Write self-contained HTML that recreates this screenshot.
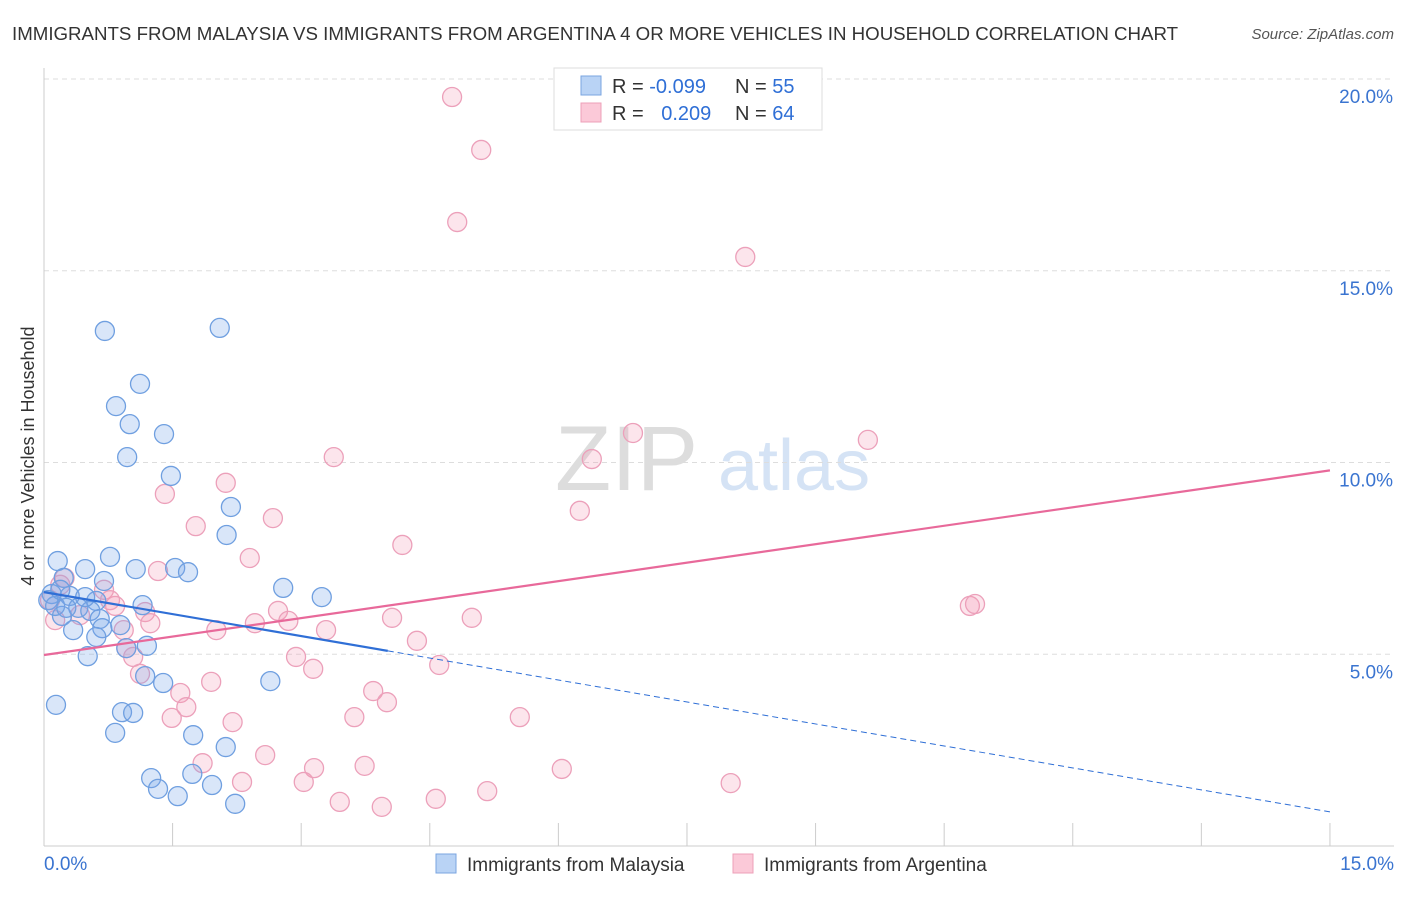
<!DOCTYPE html>
<html><head><meta charset="utf-8"><style>
body{margin:0;background:#fff;font-family:"Liberation Sans",sans-serif;}
svg text{font-family:"Liberation Sans",sans-serif;}
</style></head><body>
<svg id="chart" width="1406" height="892" xmlns="http://www.w3.org/2000/svg">
<text x="12" y="40" font-size="18.7" fill="#333">IMMIGRANTS FROM MALAYSIA VS IMMIGRANTS FROM ARGENTINA 4 OR MORE VEHICLES IN HOUSEHOLD CORRELATION CHART</text>
<text x="1394" y="39" font-size="15" fill="#555" text-anchor="end" font-style="italic">Source: ZipAtlas.com</text>
<g>
<text x="555" y="490" font-size="92" fill="#ddd" font-family="Liberation Serif">ZIP</text>
<text x="718" y="490" font-size="72" fill="#d5e3f5">atlas</text>
</g>
<g id="grid"></g><g id="axes"></g><g id="marks"></g><g id="lines"></g>
<g>
<rect x="554" y="68" width="268" height="62" fill="#fff" stroke="#ddd"/>
<rect x="581" y="76" width="20" height="19" fill="#b9d3f5" stroke="#7aa5e0"/>
<text x="612" y="93" font-size="20" fill="#333">R = <tspan fill="#2f6fd6">-0.099</tspan></text>
<text x="735" y="93" font-size="20" fill="#333">N = <tspan fill="#2f6fd6">55</tspan></text>
<rect x="581" y="103" width="20" height="19" fill="#fbc9d8" stroke="#eea0b8"/>
<text x="612" y="120" font-size="20" fill="#333">R = <tspan fill="#2f6fd6" dx="12">0.209</tspan></text>
<text x="735" y="120" font-size="20" fill="#333">N = <tspan fill="#2f6fd6">64</tspan></text>
</g>
<g>
<rect x="436" y="854" width="20" height="19" fill="#b9d3f5" stroke="#7aa5e0"/>
<text x="467" y="871" font-size="19" fill="#333">Immigrants from Malaysia</text>
<rect x="733" y="854" width="20" height="19" fill="#fbc9d8" stroke="#eea0b8"/>
<text x="764" y="871" font-size="19" fill="#333">Immigrants from Argentina</text>
</g>
<text transform="translate(34,456) rotate(-90)" font-size="18" fill="#333" text-anchor="middle">4 or more Vehicles in Household</text>
</svg>
<script>
const malaysiaX=[0.71,2.05,1.12,0.84,1.00,1.40,0.97,1.48,2.18,2.13,0.77,0.16,0.48,1.07,1.53,1.68,0.70,0.23,2.79,3.24,0.09,0.30,0.61,1.15,0.21,0.40,0.54,0.65,0.34,0.68,0.61,1.20,0.96,0.51,1.18,1.39,2.64,0.14,0.91,1.04,0.83,1.74,2.12,1.25,1.73,1.33,1.56,1.96,2.23,0.05,0.13,0.19,0.48,0.89,0.26];
const malaysiaY=[13.43,13.51,12.05,11.47,11.00,10.74,10.14,9.65,8.84,8.11,7.54,7.43,7.22,7.22,7.25,7.14,6.91,6.99,6.73,6.49,6.57,6.52,6.39,6.28,6.00,6.21,6.13,5.92,5.63,5.68,5.45,5.22,5.16,4.95,4.43,4.25,4.30,3.68,3.49,3.47,2.95,2.89,2.58,1.77,1.88,1.49,1.30,1.59,1.10,6.41,6.26,6.68,6.49,5.76,6.21];
const argentinaX=[4.76,5.10,4.82,8.18,6.87,9.61,3.38,6.39,1.41,2.12,1.77,2.67,6.25,4.18,2.40,1.33,0.24,0.70,2.73,2.85,3.29,4.06,4.99,4.35,0.83,1.18,1.24,0.93,2.01,2.46,10.80,10.86,0.96,1.04,2.94,3.14,4.61,1.12,1.59,1.95,3.84,4.00,1.66,1.49,3.62,5.55,2.20,2.58,1.85,3.15,3.74,6.04,3.03,2.31,8.01,5.17,3.45,3.94,4.57,0.07,0.13,0.42,0.77,0.19];
const argentinaY=[19.53,18.15,16.27,15.36,10.77,10.59,10.14,10.09,9.18,9.47,8.34,8.55,8.74,7.85,7.51,7.17,6.99,6.68,6.13,5.87,5.63,5.95,5.95,5.35,6.26,6.10,5.81,5.63,5.63,5.81,6.26,6.31,5.16,4.93,4.93,4.62,4.72,4.49,3.99,4.28,4.04,3.75,3.62,3.34,3.36,3.36,3.23,2.37,2.16,2.03,2.09,2.01,1.67,1.67,1.64,1.43,1.15,1.02,1.23,6.41,5.89,6.02,6.41,6.81];
const yTicks=[5,10,15,20];
const yTickLabels=["5.0%","10.0%","15.0%","20.0%"];
const xTicks=[0,1.5,3,4.5,6,7.5,9,10.5,12,13.5,15];
const malaysiaTrend=[6.62,-0.382];
const argentinaTrend=[4.98,0.321];
const malaysiaSolidEnd=4.01;

(function(){
const NS="http://www.w3.org/2000/svg";
const X=v=>44+v*85.73, Y=v=>846-v*38.35;
function mk(tag,attrs,parent){const e=document.createElementNS(NS,tag);for(const k in attrs)e.setAttribute(k,attrs[k]);document.getElementById(parent).appendChild(e);return e;}
yTicks.forEach((t,i)=>{
 const g=mk('line',{x1:44,x2:1394,y1:Y(t),y2:Y(t),stroke:'#ddd','stroke-dasharray':'5,4'},'grid');
 
 
 const tx=mk('text',{x:1393,y:Y(t)+24,'font-size':19,fill:'#3a74d0','text-anchor':'end'},'grid');
 tx.textContent=yTickLabels[i];
 
 
});
const topLine=mk('line',{x1:44,x2:1394,y1:79,y2:79,stroke:'#ddd','stroke-dasharray':'5,4'},'grid');


const ya=mk('line',{x1:44,x2:44,y1:68,y2:846,stroke:'#ccc'},'axes');


const xa=mk('line',{x1:44,x2:1394,y1:846,y2:846,stroke:'#ccc'},'axes');


xTicks.forEach(t=>{
 const l=mk('line',{x1:X(t),x2:X(t),y1:823,y2:846,stroke:'#ccc'},'axes');
 
 
});
const xl0=mk('text',{x:44,y:870,'font-size':19,fill:'#3a74d0'},'axes');xl0.textContent='0.0%';


const xl1=mk('text',{x:1394,y:870,'font-size':19,fill:'#3a74d0','text-anchor':'end'},'axes');xl1.textContent='15.0%';


argentinaX.forEach((x,i)=>{
 const c=mk('circle',{cx:X(x),cy:Y(argentinaY[i]),r:9.5,fill:'rgba(245,150,180,0.25)',stroke:'#eca0ba','stroke-width':1.3},'marks');
 
 
});
malaysiaX.forEach((x,i)=>{
 const c=mk('circle',{cx:X(x),cy:Y(malaysiaY[i]),r:9.5,fill:'rgba(120,165,235,0.28)',stroke:'#6f9fe0','stroke-width':1.3},'marks');
 
 
});
const f=(t,x)=>t[0]+t[1]*x;
const pl=mk('line',{x1:X(0),y1:Y(f(argentinaTrend,0)),x2:X(15),y2:Y(f(argentinaTrend,15)),stroke:'#e8699a','stroke-width':2.2},'lines');


const bl=mk('line',{x1:X(0),y1:Y(f(malaysiaTrend,0)),x2:X(malaysiaSolidEnd),y2:Y(f(malaysiaTrend,malaysiaSolidEnd)),stroke:'#2f6fd6','stroke-width':2.2},'lines');


const bd=mk('line',{x1:X(malaysiaSolidEnd),y1:Y(f(malaysiaTrend,malaysiaSolidEnd)),x2:X(15),y2:Y(f(malaysiaTrend,15)),stroke:'#2f6fd6','stroke-width':1,'stroke-dasharray':'6,4'},'lines');


})();
</script>
</body></html>
